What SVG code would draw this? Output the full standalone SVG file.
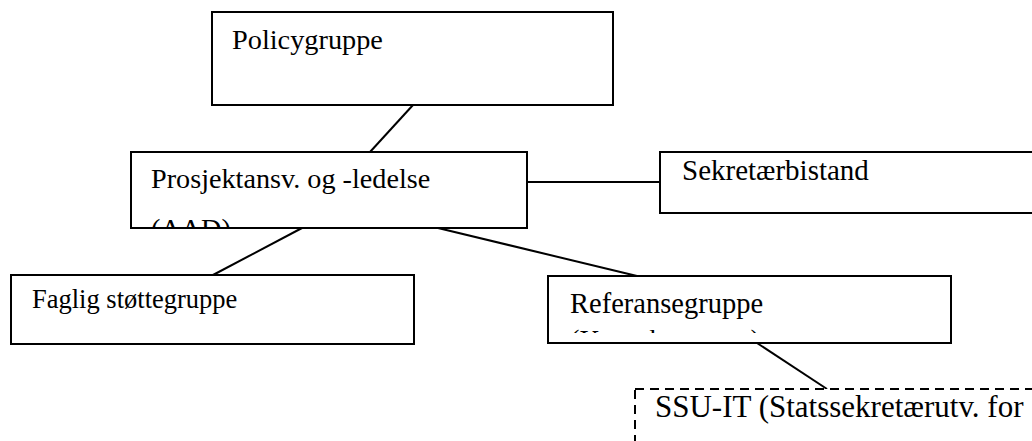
<svg xmlns="http://www.w3.org/2000/svg" width="1032" height="441" viewBox="0 0 1032 441">
<style>
.box{fill:#fff;stroke:#000;stroke-width:2}
.dash{fill:#fff;stroke:#000;stroke-width:2;stroke-dasharray:9 6}
text{font-family:'Liberation Serif','Times New Roman',Times,serif;fill:#000}
.ln{stroke:#000;stroke-width:2;fill:none}
</style>
<defs>
<clipPath id="cpProsj"><rect x="132" y="153" width="394" height="74"/></clipPath>
<clipPath id="cpRef"><rect x="549" y="277" width="401" height="56"/></clipPath>
</defs>
<rect width="1032" height="441" fill="#fff"/>
<g id="connectors">
<line class="ln" x1="413" y1="105" x2="370" y2="152"/>
<line class="ln" x1="527" y1="182" x2="660" y2="182"/>
<line class="ln" x1="302" y1="228" x2="213" y2="275"/>
<line class="ln" x1="438" y1="228" x2="637" y2="276"/>
<line class="ln" x1="757" y1="343" x2="827" y2="389"/>
</g>
<g id="policygruppe">
<rect class="box" x="212" y="12" width="401" height="93"/>
<text font-family="Liberation Serif, serif" x="232" y="49" font-size="28.3">Policygruppe</text>
</g>
<g id="prosjekt">
<rect class="box" x="131" y="152" width="396" height="76"/>
<g clip-path="url(#cpProsj)">
<text font-family="Liberation Serif, serif" x="151" y="188" font-size="28.2">Prosjektansv. og -ledelse</text>
<text font-family="Liberation Serif, serif" x="151" y="238" font-size="28.2">(AAD)</text>
</g>
</g>
<g id="sekretaer">
<rect class="box" x="660" y="152" width="380" height="61"/>
<text font-family="Liberation Serif, serif" x="682" y="180" font-size="29">Sekretærbistand</text>
</g>
<g id="faglig">
<rect class="box" x="11" y="275" width="403" height="69"/>
<text font-family="Liberation Serif, serif" x="32" y="308" font-size="26.5">Faglig støttegruppe</text>
</g>
<g id="referanse">
<rect class="box" x="548" y="276" width="403" height="67"/>
<g clip-path="url(#cpRef)">
<text font-family="Liberation Serif, serif" x="570" y="313" font-size="28.5">Referansegruppe</text>
<text font-family="Liberation Serif, serif" x="570" y="350" font-size="28.5">(Kontaktgruppe)</text>
</g>
</g>
<g id="ssu">
<rect class="dash" x="635" y="389" width="420" height="80"/>
<text font-family="Liberation Serif, serif" x="655" y="417" font-size="31">SSU-IT (Statssekretærutv. for</text>
</g>
</svg>
